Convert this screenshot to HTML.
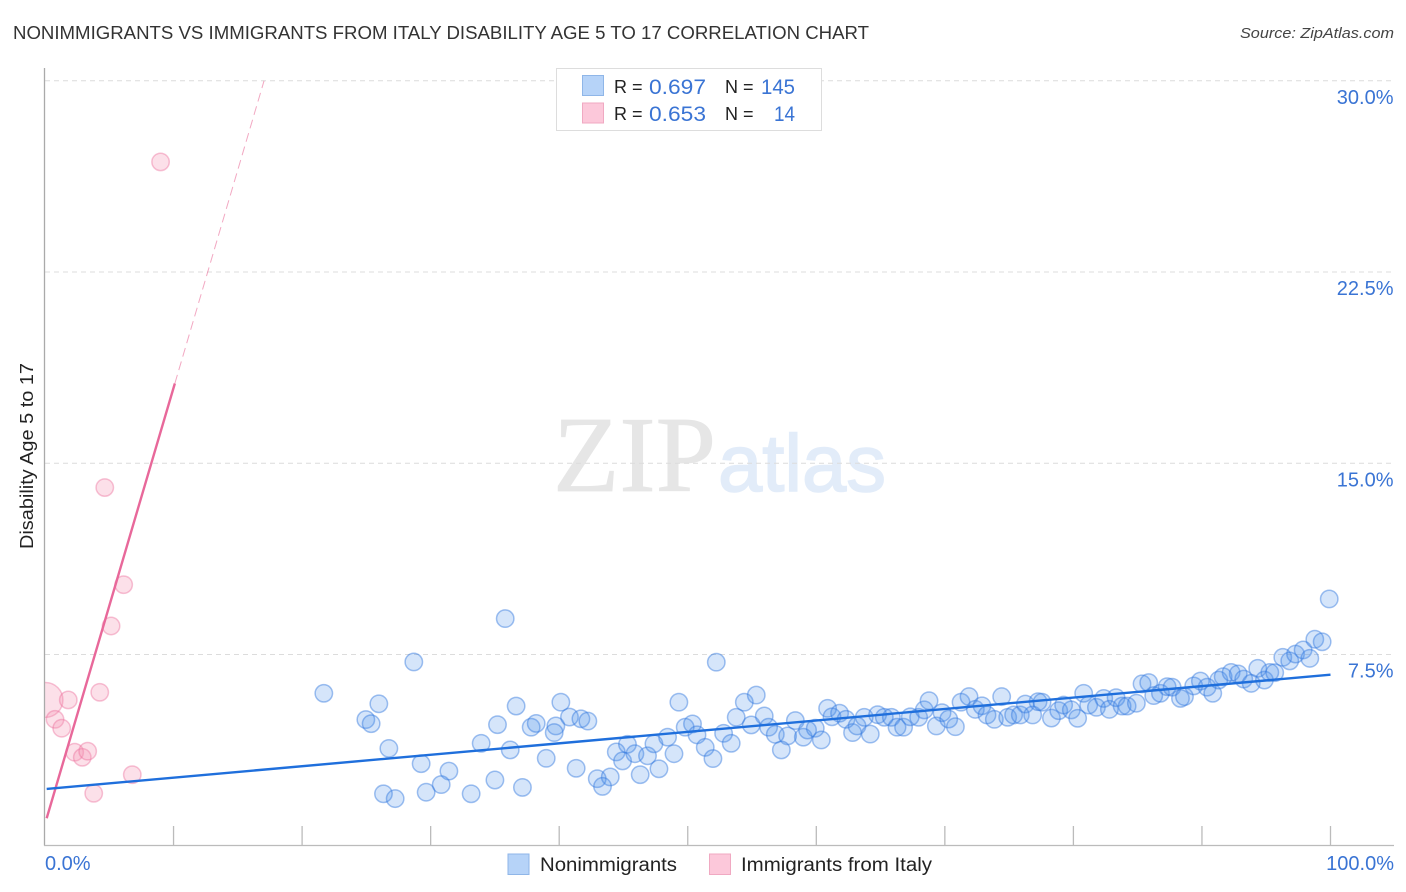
<!DOCTYPE html>
<html lang="en">
<head>
<meta charset="utf-8">
<title>Nonimmigrants vs Immigrants from Italy Disability Age 5 to 17 Correlation Chart</title>
<style>
html,body{margin:0;padding:0;background:#fff;}
svg{display:block;font-family:"Liberation Sans",sans-serif;}
</style>
</head>
<body>
<svg id="chart" xmlns="http://www.w3.org/2000/svg" width="1406" height="892" viewBox="0 0 1406 892">
  <text x="13" y="39" font-size="18" fill="#333" textLength="856" lengthAdjust="spacingAndGlyphs">NONIMMIGRANTS VS IMMIGRANTS FROM ITALY DISABILITY AGE 5 TO 17 CORRELATION CHART</text>
  <text x="1394" y="38" font-size="15" font-style="italic" fill="#444" text-anchor="end" textLength="154" lengthAdjust="spacingAndGlyphs">Source: ZipAtlas.com</text>

  <g>
    <text x="553" y="491" font-family="'Liberation Serif',serif" font-size="108" fill="#e6e6e6" stroke="#e6e6e6" stroke-width="0.8" textLength="163" lengthAdjust="spacingAndGlyphs">ZIP</text>
    <text x="718" y="491" font-size="81" fill="#e2ecf9" stroke="#e2ecf9" stroke-width="1.6" textLength="168" lengthAdjust="spacingAndGlyphs">atlas</text>
  </g>

  <g id="grid"></g>
  <g id="ylabels"></g>
  <g id="xlabels"></g>
  <text transform="translate(33,456) rotate(-90)" font-size="18" fill="#222" text-anchor="middle" textLength="186" lengthAdjust="spacingAndGlyphs">Disability Age 5 to 17</text>

  <defs>
    <clipPath id="plot-clip"><rect x="45" y="68" width="1349" height="777"></rect></clipPath>
  </defs>
  <g id="pinkDots" clip-path="url(#plot-clip)"></g>
  <g id="blueDots" clip-path="url(#plot-clip)"></g>
  <rect x="20" y="670" width="24.5" height="60" fill="#fff"></rect>
  <g id="axes"></g>
  <g id="trends"></g>

  <g>
    <rect x="556.5" y="68.5" width="265" height="62" fill="#fff" stroke="#ddd" stroke-width="1"></rect>
    <rect x="582.5" y="75.5" width="21" height="20" fill="#b6d3f8" stroke="#8fb6e8" stroke-width="1"></rect>
    <rect x="582.5" y="103" width="21" height="20" fill="#fcc8da" stroke="#f0a9c2" stroke-width="1"></rect>
    <text x="614" y="93" font-size="18" fill="#222">R =</text>
    <text x="649" y="94" font-size="21" fill="#3a74d4" textLength="57" lengthAdjust="spacingAndGlyphs">0.697</text>
    <text x="725" y="93" font-size="18" fill="#222">N =</text>
    <text x="795" y="94" font-size="21" fill="#3a74d4" text-anchor="end" textLength="34" lengthAdjust="spacingAndGlyphs">145</text>
    <text x="614" y="120" font-size="18" fill="#222">R =</text>
    <text x="649" y="121" font-size="21" fill="#3a74d4" textLength="57" lengthAdjust="spacingAndGlyphs">0.653</text>
    <text x="725" y="120" font-size="18" fill="#222">N =</text>
    <text x="795" y="121" font-size="21" fill="#3a74d4" text-anchor="end" textLength="21" lengthAdjust="spacingAndGlyphs">14</text>
  </g>

  <g>
    <rect x="508" y="854" width="21" height="20.5" fill="#b6d3f8" stroke="#8fb6e8" stroke-width="1"></rect>
    <text x="540" y="871" font-size="19" fill="#222" textLength="137" lengthAdjust="spacingAndGlyphs">Nonimmigrants</text>
    <rect x="709.5" y="854" width="21" height="20.5" fill="#fcc8da" stroke="#f0a9c2" stroke-width="1"></rect>
    <text x="741" y="871" font-size="19" fill="#222" textLength="191" lengthAdjust="spacingAndGlyphs">Immigrants from Italy</text>
  </g>
</svg>
<script>
const yTicks = [7.5, 15, 22.5, 30];
const yTickLabels = ["7.5%", "15.0%", "22.5%", "30.0%"];
const xTicks = [10, 20, 30, 40, 50, 60, 70, 80, 90, 100];
const xEndTicks = [0, 100];
const xEndLabels = ["0.0%", "100.0%"];

const blueX = [35.8,28.69,25.97,24.96,25.37,26.75,26.33,27.24,29.26,31.42,30.82,29.65,33.15,33.93,35.2,36.65,36.19,35.0,37.14,37.82,38.21,38.99,40.13,39.74,39.61,40.8,41.69,42.23,41.32,42.96,43.97,43.37,44.44,44.93,45.31,45.89,46.3,46.87,47.37,47.76,48.43,48.93,49.31,49.8,50.37,50.72,52.22,52.79,53.38,51.36,51.96,54.4,55.33,53.77,54.94,55.95,56.29,56.81,57.77,57.28,58.37,58.99,59.32,59.92,60.39,60.88,61.22,61.81,62.31,62.82,63.17,63.73,64.2,64.77,65.29,65.84,66.28,66.79,67.31,67.96,68.4,68.77,69.34,69.78,70.3,70.82,71.26,71.88,72.37,72.89,73.28,73.85,74.42,74.89,75.35,75.87,76.26,76.83,77.25,77.56,78.29,78.86,79.24,79.84,80.33,80.8,81.19,81.79,82.36,82.8,83.32,83.79,84.18,84.9,85.34,85.86,86.25,86.77,87.29,87.68,88.33,88.64,89.36,89.88,90.4,90.84,91.31,91.65,92.27,92.82,93.25,93.83,94.34,94.86,95.28,95.66,96.29,96.83,97.28,97.87,98.39,98.78,99.35,99.9,21.69];
const blueY = [8.91,7.21,5.57,4.95,4.79,3.82,2.04,1.85,3.22,2.93,2.4,2.1,2.04,4.02,4.75,5.48,3.76,2.58,2.29,4.65,4.8,3.43,5.63,4.7,4.44,5.05,4.98,4.89,3.04,2.63,2.7,2.33,3.68,3.33,3.98,3.61,2.79,3.53,4.0,3.02,4.26,3.61,5.63,4.65,4.78,4.35,7.2,4.41,4.02,3.86,3.42,5.63,5.91,5.04,4.74,5.09,4.65,4.37,4.31,3.76,4.91,4.26,4.54,4.61,4.15,5.39,5.06,5.2,4.96,4.44,4.7,5.04,4.38,5.14,5.04,5.04,4.65,4.65,5.06,5.04,5.33,5.69,4.7,5.22,4.97,4.67,5.63,5.85,5.35,5.49,5.13,4.96,5.85,5.04,5.13,5.13,5.56,5.13,5.65,5.63,5.01,5.3,5.52,5.33,5.0,5.98,5.52,5.43,5.78,5.35,5.81,5.48,5.48,5.59,6.35,6.4,5.89,5.98,6.24,6.22,5.78,5.85,6.27,6.46,6.22,5.98,6.5,6.63,6.8,6.74,6.54,6.37,6.96,6.5,6.8,6.79,7.39,7.25,7.52,7.68,7.35,8.1,8.0,9.68,5.98];

const pinkX = [0.04,0.78,1.3,1.81,2.31,2.9,3.32,3.79,4.26,5.14,6.12,6.79,4.65,8.99];
const pinkY = [5.72,4.96,4.61,5.72,3.67,3.47,3.71,2.06,6.02,8.62,10.24,2.79,14.05,26.82];
const pinkWeight = [4,1,1,1,1,1,1,1,1,1,1,1,1,1];

const blueTrendX = [0.13, 100];
const blueTrendY = [2.23, 6.71];
const pinkSolidX = [0.13, 10.1];
const pinkSolidY = [1.08, 18.13];
const pinkDashX = [10.1, 17.04];
const pinkDashY = [18.13, 30];

const SVGNS = "http://www.w3.org/2000/svg";
function xScale(v){ return 45 + v * 12.855; }
function yScale(v){ return 845.8 - v * 25.5; }
function make(tag, attrs, parent){
  const el = document.createElementNS(SVGNS, tag);
  for (const k in attrs) el.setAttribute(k, attrs[k]);
  parent.appendChild(el);
  return el;
}

const grid = document.getElementById("grid");
const axes = document.getElementById("axes");
const ylabels = document.getElementById("ylabels");
const xlabels = document.getElementById("xlabels");

yTicks.forEach(function(t, i){
  const line = make("line", {x1:45, x2:1394, y1:yScale(t), y2:yScale(t), stroke:"#dcdcdc", "stroke-width":1, "stroke-dasharray":"5 4"}, grid);
  
  
  const label = make("text", {x:1393.5, y:yScale(t) + 23, "font-size":20, fill:"#3a74d4", "text-anchor":"end"}, ylabels);
  
  
  label.textContent = yTickLabels[i];
});

const yAxis = make("line", {x1:44.5, x2:44.5, y1:68, y2:845.5, stroke:"#aaa", "stroke-width":1.3}, axes);


const xAxis = make("line", {x1:44, x2:1394, y1:845.5, y2:845.5, stroke:"#bbb", "stroke-width":1.3}, axes);



xTicks.forEach(function(t){
  const tick = make("line", {x1:xScale(t), x2:xScale(t), y1:826, y2:845, stroke:"#bbb", "stroke-width":1.3}, axes);
  
  
});

xEndTicks.forEach(function(t, i){
  const anchor = i === 0 ? "start" : "end";
  const px = i === 0 ? xScale(t) : xScale(t) + 63.5;
  const label = make("text", {x:px, y:870, "font-size":20, fill:"#3a74d4", "text-anchor":anchor}, xlabels);
  
  
  label.textContent = xEndLabels[i];
});

const pinkDots = document.getElementById("pinkDots");
pinkX.forEach(function(v, i){
  const c = make("circle", {cx:xScale(v), cy:yScale(pinkY[i]), r:8.7 * Math.sqrt(pinkWeight[i]), fill:"#f48fb1", "fill-opacity":0.28, stroke:"#ec6d9b", "stroke-opacity":0.42, "stroke-width":1.5}, pinkDots);
  
  
});

const blueDots = document.getElementById("blueDots");
blueX.forEach(function(v, i){
  const c = make("circle", {cx:xScale(v), cy:yScale(blueY[i]), r:8.7, fill:"#4a8fe8", "fill-opacity":0.23, stroke:"#2f76dd", "stroke-opacity":0.45, "stroke-width":1.5}, blueDots);
  
  
});

const trends = document.getElementById("trends");
const pinkDash = make("line", {x1:xScale(pinkDashX[0]), y1:yScale(pinkDashY[0]), x2:xScale(pinkDashX[1]), y2:yScale(pinkDashY[1]), stroke:"#e8608f", "stroke-opacity":0.55, "stroke-width":1, "stroke-dasharray":"9 5"}, trends);


const pinkSolid = make("line", {x1:xScale(pinkSolidX[0]), y1:yScale(pinkSolidY[0]), x2:xScale(pinkSolidX[1]), y2:yScale(pinkSolidY[1]), stroke:"#e8689a", "stroke-width":2.4}, trends);


const blueLine = make("line", {x1:xScale(blueTrendX[0]), y1:yScale(blueTrendY[0]), x2:xScale(blueTrendX[1]), y2:yScale(blueTrendY[1]), stroke:"#1f6fdc", "stroke-width":2.4}, trends);


</script>
</body>
</html>
